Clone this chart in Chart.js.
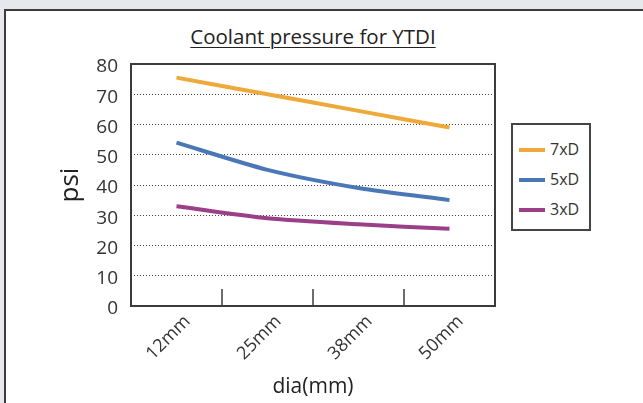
<!DOCTYPE html>
<html>
<head>
<meta charset="utf-8">
<script src="https://cdn.jsdelivr.net/npm/chart.js@4.4.1/dist/chart.umd.min.js"></script>
<style>
  html, body { margin: 0; padding: 0; }
  body { width: 643px; height: 403px; background: #e7e8eb; position: relative; overflow: hidden; font-family: "Open Sans", "Noto Sans", sans-serif; }
  #frame { position: absolute; left: 4px; top: 9px; width: 700px; height: 500px; background: #fff; border-left: 2px solid #3c3c3c; border-top: 2px solid #3c3c3c; }
  #wrap { position: absolute; left: 0; top: 0; width: 643px; height: 403px; }
  #title { position: absolute; left: 131px; top: 22px; width: 364px; text-align: center; font-size: 20.5px; color: #222; }
  #title span { text-decoration: underline; text-underline-offset: 3px; text-decoration-thickness: 1px; }
  #legend { position: absolute; left: 511px; top: 123px; width: 76px; height: 104px; border: 2px solid #444; background: #fff; }
  .item { position: absolute; left: 6px; height: 20px; font-size: 16px; color: #333; line-height: 20px; }
  .item i { position: absolute; left: 0; top: 9px; width: 26px; height: 4px; }
  .item b { position: absolute; left: 31px; top: 0; font-weight: normal; white-space: nowrap; }
</style>
</head>
<body>
<div id="frame"></div>
<div id="title"><span>Coolant pressure for YTDI</span></div>
<div id="wrap"><canvas id="chart" width="643" height="403"></canvas></div>
<div id="legend"></div>
<script>
// chart data
const categories = ['12mm', '25mm', '38mm', '50mm'];
const seriesNames = ['7xD', '5xD', '3xD'];
const seriesColors = ['#efa93a', '#4a77b6', '#9b3f89'];
const values7xD = [75.5, 70, 64.5, 59];
const values5xD = [54, 45, 39, 35];
const values3xD = [33, 29, 27, 25.5];
const yTicks = [0, 10, 20, 30, 40, 50, 60, 70, 80];

const seriesValues = [values7xD, values5xD, values3xD];

// inward tick marks between categories + box round the plot
const frameBox = {
    id: 'frameBox',
    afterDraw(chart) {
        const { ctx, chartArea: a } = chart;
        const x = chart.scales.x;
        ctx.save();
        ctx.strokeStyle = '#3c3c3c';
        ctx.lineWidth = 1.5;
        for (let i = 0; i < categories.length - 1; i++) {
            const px = (x.getPixelForValue(i) + x.getPixelForValue(i + 1)) / 2;
            ctx.beginPath();
            ctx.moveTo(px, a.bottom);
            ctx.lineTo(px, a.bottom - 17);
            ctx.stroke();
        }
        ctx.lineWidth = 2;
        ctx.strokeRect(a.left, a.top, a.right - a.left, a.bottom - a.top);
        ctx.restore();
    }
};

const ctx = document.getElementById('chart').getContext('2d');
const chart = new Chart(ctx, {
    type: 'line',
    data: {
        labels: categories,
        datasets: seriesNames.map((name, i) => ({
            label: name,
            data: seriesValues[i],
            borderColor: seriesColors[i],
            backgroundColor: seriesColors[i],
            borderWidth: 4,
            pointRadius: 0,
            tension: 0.25,
            fill: false
        }))
    },
    options: {
        responsive: false,
        animation: false,
        layout: { padding: { top: 64, right: 148, left: 0, bottom: 0 } },
        plugins: {
            legend: { display: false },
            tooltip: { enabled: false },
            title: { display: false }
        },
        scales: {
            x: {
                offset: true,
                grid: { display: false },
                border: { display: false },
                ticks: {
                    color: '#333',
                    font: { family: 'Open Sans', size: 18 },
                    maxRotation: 45,
                    minRotation: 45,
                    padding: -3,
                    labelOffset: 11
                },
                title: {
                    display: true,
                    text: 'dia(mm)',
                    color: '#222',
                    font: { family: 'Open Sans', size: 21 },
                    padding: { top: 2, bottom: 3 }
                },
                afterFit(s) { s.height = 97; }
            },
            y: {
                min: 0,
                max: 80,
                afterBuildTicks(s) { s.ticks = yTicks.map(v => ({ value: v })); },
                grid: { color: '#444', lineWidth: 1, drawTicks: false },
                border: { display: false, dash: [1, 2] },
                ticks: {
                    color: '#333',
                    font: { family: 'Open Sans', size: 19 },
                    padding: 13,
                    labelOffset: 3
                },
                title: {
                    display: true,
                    text: 'psi',
                    color: '#222',
                    font: { family: 'Open Sans', size: 26 },
                    padding: { top: 55, bottom: 0 }
                },
                afterFit(s) { s.width = 131; }
            }
        }
    },
    plugins: [frameBox]
});

// legend built from the series
const legend = document.getElementById('legend');
seriesNames.forEach((name, i) => {
    const d = document.createElement('div');
    d.className = 'item';
    d.style.top = (14 + i * 30) + 'px';
    d.innerHTML = '<i style="background:' + seriesColors[i] + '"></i><b>' + name + '</b>';
    legend.appendChild(d);
});
</script>
</body>
</html>
